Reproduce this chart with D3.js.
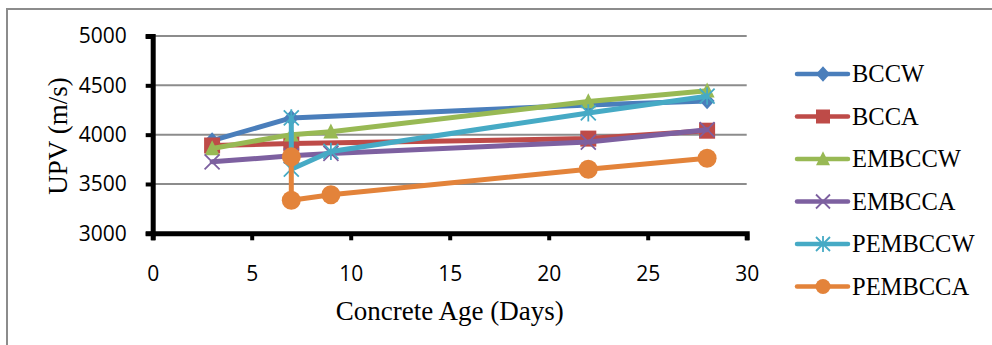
<!DOCTYPE html>
<html>
<head>
<meta charset="utf-8">
<script src="https://cdn.jsdelivr.net/npm/d3@7"></script>
<style>
  html, body { margin: 0; padding: 0; background: #fff; }
  svg { display: block; }
</style>
</head>
<body>
<svg id="chart" width="992" height="345"></svg>
<script>
// Ultrasonic pulse velocity versus concrete age, per mix
const seriesNames = ["BCCW", "BCCA", "EMBCCW", "EMBCCA", "PEMBCCW", "PEMBCCA"];
const seriesColors = ["#4A7EBB", "#BE4B48", "#98B954", "#7D60A0", "#46AAC5", "#E3833A"];
const seriesMarkers = ["diamond", "square", "triangle", "x", "asterisk", "circle"];

const ageBCCW = [3, 7, 22, 28];
const upvBCCW = [3940, 4170, 4300, 4340];
const ageBCCA = [3, 7, 22, 28];
const upvBCCA = [3890, 3910, 3960, 4040];
const ageEMBCCW = [3, 7, 9, 22, 28];
const upvEMBCCW = [3860, 4000, 4030, 4335, 4445];
const ageEMBCCA = [3, 7, 9, 22, 28];
const upvEMBCCA = [3725, 3785, 3810, 3925, 4050];
const agePEMBCCW = [7, 7, 9, 22, 28];
const upvPEMBCCW = [4170, 3650, 3830, 4220, 4390];
const agePEMBCCA = [7, 7, 9, 22, 28];
const upvPEMBCCA = [3775, 3335, 3390, 3650, 3760];

const xTicks = [0, 5, 10, 15, 20, 25, 30];
const yTicks = [3000, 3500, 4000, 4500, 5000];
const xTitle = "Concrete Age (Days)";
const yTitle = "UPV (m/s)";

const ages = [ageBCCW, ageBCCA, ageEMBCCW, ageEMBCCA, agePEMBCCW, agePEMBCCA];
const upvs = [upvBCCW, upvBCCA, upvEMBCCW, upvEMBCCA, upvPEMBCCW, upvPEMBCCA];
const series = seriesNames.map((name, i) => ({
  name,
  color: seriesColors[i],
  marker: seriesMarkers[i],
  points: ages[i].map((a, j) => ({ x: a, y: upvs[i][j] }))
}));

const serif = "'Liberation Serif', 'Times New Roman', Times, serif";
const svg = d3.select("#chart");
const plot = { left: 152.7, right: 746.7, top: 36, bottom: 233.3 };

const x = d3.scaleLinear().domain([0, 30]).range([plot.left, plot.right]);
const y = d3.scaleLinear().domain([3000, 5000]).range([plot.bottom, plot.top]);

// outer frame (only top and left edges fall inside the view)
svg.append("rect")
  .attr("x", 7).attr("y", 9)
  .attr("width", 1000).attr("height", 400)
  .attr("fill", "none").attr("stroke", "#8c8c8c").attr("stroke-width", 2);

// horizontal gridlines
svg.append("g")
  .selectAll("line")
  .data(yTicks.filter(v => v !== 3000))
  .join("line")
  .attr("x1", plot.left).attr("x2", plot.right)
  .attr("y1", d => y(d)).attr("y2", d => y(d))
  .attr("stroke", "#8c8c8c").attr("stroke-width", 2);

// axes
const yAxis = svg.append("g")
  .attr("transform", `translate(${plot.left},0)`)
  .call(d3.axisLeft(y).tickValues(yTicks).tickFormat(d3.format("d")).tickSize(7).tickPadding(19));
const xAxis = svg.append("g")
  .attr("transform", `translate(0,${plot.bottom})`)
  .call(d3.axisBottom(x).tickValues(xTicks).tickFormat(d3.format("d")).tickSize(7));

[yAxis, xAxis].forEach(g => {
  g.select(".domain").attr("stroke", "#000").attr("stroke-width", 5);
  g.selectAll(".tick line").attr("stroke", "#000").attr("stroke-width", 4);
  g.selectAll(".tick text")
    .attr("fill", "#000")
    .style("font-family", "'Open Sans', sans-serif")
    .style("font-size", "21px");
});
xAxis.selectAll(".tick text").attr("y", 40).attr("dy", "0.35em");

// axis titles
svg.append("text")
  .attr("x", (plot.left + plot.right) / 2)
  .attr("y", 320)
  .attr("text-anchor", "middle")
  .attr("font-family", serif)
  .attr("font-size", 27)
  .attr("fill", "#000")
  .text(xTitle);
svg.append("text")
  .attr("transform", "translate(67,136) rotate(-90)")
  .attr("text-anchor", "middle")
  .attr("font-family", serif)
  .attr("font-size", 27)
  .attr("fill", "#000")
  .text(yTitle);

// marker drawing
function drawMarker(g, type, color, s) {
  const h = s / 2;
  if (type === "diamond") {
    g.append("path").attr("d", `M0,${-h * 1.1}L${h},0L0,${h * 1.1}L${-h},0Z`).attr("fill", color);
  } else if (type === "square") {
    g.append("rect").attr("x", -h).attr("y", -h).attr("width", s).attr("height", s).attr("fill", color);
  } else if (type === "triangle") {
    g.append("path").attr("d", `M0,${-h * 1.1}L${h},${h * 0.9}L${-h},${h * 0.9}Z`).attr("fill", color);
  } else if (type === "circle") {
    g.append("circle").attr("r", h).attr("fill", color);
  } else if (type === "x") {
    g.append("path").attr("d", `M${-h},${-h}L${h},${h}M${-h},${h}L${h},${-h}`)
      .attr("stroke", color).attr("stroke-width", 1.8).attr("fill", "none");
  } else if (type === "asterisk") {
    g.append("path").attr("d", `M${-h},${-h}L${h},${h}M${-h},${h}L${h},${-h}M0,${-h * 1.15}L0,${h * 1.15}`)
      .attr("stroke", color).attr("stroke-width", 1.8).attr("fill", "none");
  }
}
const markerSize = { diamond: 15, square: 16, triangle: 15, x: 15, asterisk: 15, circle: 19 };

// series lines and markers
const line = d3.line().x(d => x(d.x)).y(d => y(d.y));
series.forEach(s => {
  const g = svg.append("g");
  g.append("path")
    .datum(s.points)
    .attr("d", line)
    .attr("fill", "none")
    .attr("stroke", s.color)
    .attr("stroke-width", 5)
    .attr("stroke-linejoin", "round")
    .attr("stroke-linecap", "round");
  s.points.forEach(p => {
    const m = g.append("g").attr("transform", `translate(${x(p.x)},${y(p.y)})`);
    drawMarker(m, s.marker, s.color, markerSize[s.marker]);
  });
});

// legend
const legend = svg.append("g");
series.forEach((s, i) => {
  const ry = 74 + i * 42.5;
  const g = legend.append("g").attr("transform", `translate(0,${ry})`);
  g.append("line")
    .attr("x1", 797).attr("x2", 848).attr("y1", 0).attr("y2", 0)
    .attr("stroke", s.color).attr("stroke-width", 4.5).attr("stroke-linecap", "round");
  const m = g.append("g").attr("transform", "translate(823,0)");
  drawMarker(m, s.marker, s.color, s.marker === "circle" ? 15 : 14);
  g.append("text")
    .attr("x", 852).attr("y", 8)
    .attr("font-family", serif)
    .attr("font-size", 24.5)
    .attr("fill", "#000")
    .text(s.name);
});
</script>
</body>
</html>
